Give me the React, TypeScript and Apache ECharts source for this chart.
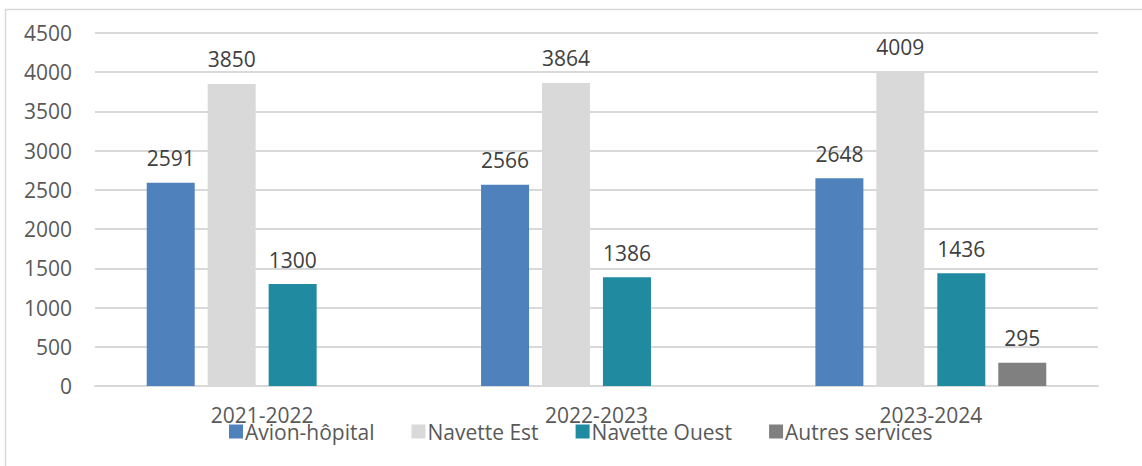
import React, { useEffect, useRef } from "react";
import * as echarts from "echarts";

const categories = ["2021-2022", "2022-2023", "2023-2024"];
const seriesNames = ["Avion-hôpital", "Navette Est", "Navette Ouest", "Autres services"];
const avionHopital = [2591, 2566, 2648];
const navetteEst = [3850, 3864, 4009];
const navetteOuest = [1300, 1386, 1436];
const autresServices = [null, null, 295];
const colors = ["#4F81BD", "#D9D9D9", "#1F8AA0", "#808080"];

export default function App() {
  const ref = useRef<HTMLDivElement>(null);
  useEffect(() => {
    if (!ref.current) return;
    const chart = echarts.init(ref.current, null, { renderer: "svg" });
    const font = "'Open Sans', 'Noto Sans', sans-serif";
    const data = [avionHopital, navetteEst, navetteOuest, autresServices];
    chart.setOption({
      animation: false,
      backgroundColor: "#ffffff",
      textStyle: { fontFamily: font },
      graphic: [
        {
          type: "rect",
          shape: { x: 5.5, y: 9.5, width: 1200, height: 500 },
          style: { fill: "none", stroke: "#D9D9D9", lineWidth: 1.5 },
          silent: true,
          z: -10,
        },
      ],
      grid: { left: 95, right: 44, top: 33, bottom: 80, containLabel: false },
      legend: {
        data: seriesNames,
        left: 229,
        top: 421,
        padding: 0,
        itemWidth: 14,
        itemHeight: 14,
        itemGap: 37,
        icon: "rect",
        textStyle: { fontFamily: font, fontSize: 21, color: "#595959", padding: [0, 0, 0, -3] },
      },
      xAxis: {
        type: "category",
        data: categories,
        axisLine: { lineStyle: { color: "#D9D9D9", width: 2 } },
        axisTick: { show: false },
        axisLabel: { fontFamily: font, fontSize: 21, color: "#595959", margin: 18 },
      },
      yAxis: {
        type: "value",
        min: 0,
        max: 4500,
        interval: 500,
        axisLine: { show: false },
        axisTick: { show: false },
        splitLine: { lineStyle: { color: "#D9D9D9", width: 2 } },
        axisLabel: {
          fontFamily: font,
          fontSize: 21,
          color: "#595959",
          margin: 23,
          formatter: (v: number) => String(v),
        },
      },
      series: seriesNames.map((name, i) => ({
        name,
        type: "bar",
        data: data[i],
        barWidth: 48,
        barGap: "27%",
        itemStyle: { color: colors[i] },
        label: {
          show: true,
          position: "top",
          distance: 14,
          fontFamily: font,
          fontSize: 21,
          color: "#404040",
        },
      })),
    });
    return () => chart.dispose();
  }, []);
  return (
    <div
      ref={ref}
      style={{ position: "fixed", left: 0, top: 0, width: 1142, height: 466 }}
    />
  );
}
